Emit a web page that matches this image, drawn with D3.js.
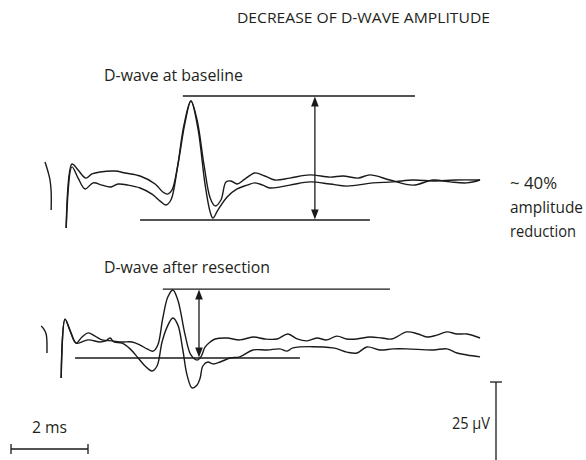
<!DOCTYPE html>
<html>
<head>
<meta charset="utf-8">
<script src="https://cdn.jsdelivr.net/npm/d3@7/dist/d3.min.js"></script>
<style>
  html, body { margin: 0; padding: 0; background: #fff; }
  svg { display: block; }
  text { font-family: "Open Sans", "Noto Sans", sans-serif; fill: #231f20; }
</style>
</head>
<body>
<div id="chart"></div>
<script>
// ---- Recorded epidural D-wave traces, [time (ms), amplitude (µV)] ----

// Stimulus artifact tail (before each sweep)
const artifactBaseline = [[0.13, 5.6], [0.21, 2.5], [0.26, 0], [0.29, -3.75], [0.29, -9.4]];
const artifactResection = [[0.03, 3.75], [0.10, 2.8], [0.16, 1.25], [0.18, -1.25], [0.18, -4.7]];

// Baseline D-wave, two superimposed sweeps
const baselineSweep1 = [
  [0.68, -15], [0.83, 5.0], [0.99, 3.1], [1.19, 0.6], [1.35, 1.9], [1.56, 2.5], [1.95, 2.8],
  [2.21, 2.2], [2.60, 1.25], [2.99, -1.25], [3.19, -3.75], [3.32, -4.4], [3.43, -3.1],
  [3.58, 4.7], [3.77, 18.1], [3.92, 24.7], [4.08, 18.75], [4.26, 4.7], [4.42, -5.6],
  [4.55, -8.1], [4.70, -6.25], [4.83, -0.6], [4.96, -0.3], [5.12, -1.25], [5.32, 0.3],
  [5.58, 2.2], [5.84, 1.25], [6.10, 0], [6.49, 0.6], [7.01, 1.6], [7.53, 0.9], [7.87, 1.25],
  [8.26, 0.6], [8.57, 1.6], [9.09, 0], [9.69, -1.6], [10.21, 0], [10.65, -0.6],
  [11.09, -0.9], [11.43, 0]
];
const baselineSweep2 = [
  [0.68, -15], [0.83, 4.1], [0.99, 0.6], [1.17, -2.8], [1.38, -0.9], [1.61, -1.6], [1.82, -2.2],
  [2.03, -1.25], [2.29, -1.6], [2.60, -2.5], [2.91, -4.4], [3.12, -6.6], [3.27, -7.8],
  [3.40, -6.25], [3.56, 3.1], [3.74, 17.2], [3.92, 24.7], [4.10, 16.25], [4.29, -1.6],
  [4.42, -10], [4.49, -11.9], [4.62, -9.4], [4.86, -5.3], [5.12, -2.8], [5.38, -1.6],
  [5.58, -0.9], [5.79, -1.6], [5.97, -2.5], [6.49, -1.6], [7.01, -0.6], [7.53, -1.25],
  [7.97, -1.9], [8.65, -0.9], [9.17, -0.6], [9.69, 0], [10.21, -0.3], [10.78, 0], [11.43, 0]
];

// D-wave after resection, two superimposed sweeps
const resectionSweep1 = [
  [0.55, -12.5], [0.65, 5.9], [0.78, 2.5], [0.94, -1.6], [1.09, 0.3], [1.25, 1.6], [1.43, 0.6],
  [1.61, -0.6], [1.87, -0.9], [2.13, -1.25], [2.39, -1.25], [2.60, -2.2], [2.78, -3.4],
  [2.94, -4.1], [3.06, -2.2], [3.19, 6.25], [3.32, 12.8], [3.45, 15.0], [3.58, 11.9],
  [3.77, 0.9], [3.92, -5.3], [4.08, -6.9], [4.18, -5.9], [4.29, -2.8], [4.42, -1.25],
  [4.55, -0.3], [4.86, 0], [5.19, -0.6], [5.53, 0.3], [5.84, -0.3], [6.16, -0.3], [6.44, 1.25],
  [6.68, -0.3], [6.94, -0.9], [7.19, 0], [7.45, -0.6], [7.71, 0.6], [7.97, -0.3], [8.23, -0.3],
  [8.57, 0.3], [8.88, 0], [9.14, -0.3], [9.53, 1.9], [9.82, 1.25], [10.05, 0.3], [10.31, 0.9],
  [10.57, 1.9], [10.83, 1.25], [11.09, 1.25], [11.43, 0]
];
const resectionSweep2 = [
  [0.55, -12.5], [0.65, 5.9], [0.78, 2.2], [0.94, -1.6], [1.25, -0.6], [1.56, -1.25], [1.71, -0.9],
  [1.82, 0], [1.92, -1.25], [2.13, -1.6], [2.34, -3.4], [2.55, -6.25], [2.73, -8.75],
  [2.91, -10.3], [3.04, -8.75], [3.17, -1.25], [3.30, 3.4], [3.45, 6.25], [3.58, 4.1],
  [3.71, -3.75], [3.82, -11.6], [3.95, -15.6], [4.08, -14.7], [4.16, -12.5], [4.23, -8.75],
  [4.36, -7.5], [4.49, -8.1], [4.68, -7.5], [4.94, -6.25], [5.19, -5.9], [5.53, -3.75],
  [5.90, -3.75], [6.23, -3.4], [6.42, -4.1], [6.57, -3.1], [7.61, -3.1], [7.97, -4.4],
  [8.23, -4.7], [8.49, -2.8], [8.83, -3.75], [9.17, -3.4], [9.53, -3.4], [10.21, -3.75],
  [10.57, -3.4], [10.83, -4.7], [11.09, -5.3], [11.43, -5.9]
];

// Peak-to-trough reference levels: [level µV, from ms, to ms]
const baselineLevels = [[26.25, 3.71, 9.74], [-12.5, 2.60, 8.57]];
const resectionLevels = [[15.3, 3.19, 9.09], [-6.25, 0.91, 6.75]];
// Time of the amplitude arrow in each panel (ms)
const baselineArrowAt = 7.14;
const resectionArrowAt = 4.13;

// Calibration
const timeCalMs = 2;
const ampCalUv = 25;

// Labels
const titleText = "DECREASE OF D-WAVE AMPLITUDE";
const baselineLabel = "D-wave at baseline";
const resectionLabel = "D-wave after resection";
const reductionLines = ["~ 40%", "amplitude", "reduction"];
const timeCalLabel = "2 ms";
const ampCalLabel = "25 \u03bcV";

// ---- Drawing ----
const W = 586, H = 460;
const ink = "#1b1a1a";

const svg = d3.select("#chart").append("svg")
  .attr("width", W).attr("height", H);

const x = d3.scaleLinear().domain([0, 14]).range([40, 579]);
const yBase = d3.scaleLinear().domain([0, 25]).range([180, 100]);
const yRes = d3.scaleLinear().domain([0, 25]).range([338, 258]);

function drawTrace(data, y) {
  const line = d3.line()
    .x(d => x(d[0])).y(d => y(d[1]))
    .curve(d3.curveCatmullRom.alpha(0.5));
  svg.append("path").datum(data)
    .attr("d", line)
    .attr("fill", "none")
    .attr("stroke", ink)
    .attr("stroke-width", 1.4)
    .attr("stroke-linejoin", "round");
}

function drawLevels(levels, y) {
  svg.selectAll(null).data(levels).enter().append("line")
    .attr("x1", d => x(d[1])).attr("x2", d => x(d[2]))
    .attr("y1", d => y(d[0])).attr("y2", d => y(d[0]))
    .attr("stroke", ink).attr("stroke-width", 1.3);
}

function drawArrow(t, levels, y) {
  const ax = x(t);
  const yTop = y(levels[0][0]) + 0.5;
  const yBot = y(levels[1][0]) - 0.5;
  const hl = 10, hw = 3.8;
  svg.append("line")
    .attr("x1", ax).attr("x2", ax)
    .attr("y1", yTop + 4).attr("y2", yBot - 4)
    .attr("stroke", ink).attr("stroke-width", 1.3);
  svg.append("path")
    .attr("d", `M${ax},${yTop} L${ax - hw},${yTop + hl} L${ax + hw},${yTop + hl} Z`)
    .attr("fill", ink);
  svg.append("path")
    .attr("d", `M${ax},${yBot} L${ax - hw},${yBot - hl} L${ax + hw},${yBot - hl} Z`)
    .attr("fill", ink);
}

// Baseline panel
drawTrace(artifactBaseline, yBase);
drawTrace(baselineSweep1, yBase);
drawTrace(baselineSweep2, yBase);
drawLevels(baselineLevels, yBase);
drawArrow(baselineArrowAt, baselineLevels, yBase);

// After-resection panel
drawTrace(artifactResection, yRes);
drawTrace(resectionSweep1, yRes);
drawTrace(resectionSweep2, yRes);
drawLevels(resectionLevels, yRes);
drawArrow(resectionArrowAt, resectionLevels, yRes);

// Text
function label(str, tx, ty, size, len) {
  const t = svg.append("text").attr("x", tx).attr("y", ty)
    .attr("font-size", size).text(str);
  if (len) t.attr("textLength", len).attr("lengthAdjust", "spacingAndGlyphs");
  return t;
}
label(titleText, 237, 23, 15, 253);
label(baselineLabel, 104, 81, 16, 139);
label(resectionLabel, 104, 273, 16, 166);
label(reductionLines[0], 510, 189, 16, 47);
label(reductionLines[1], 510, 213, 16, 73);
label(reductionLines[2], 510, 237, 16, 66);

// Time calibration bar
const tbX = 11, tbY = 449;
const tbLen = x(timeCalMs) - x(0);
svg.append("line").attr("x1", tbX).attr("x2", tbX + tbLen).attr("y1", tbY).attr("y2", tbY)
  .attr("stroke", ink).attr("stroke-width", 1.3);
[tbX, tbX + tbLen].forEach(px => {
  svg.append("line").attr("x1", px).attr("x2", px).attr("y1", tbY - 5).attr("y2", tbY + 5)
    .attr("stroke", ink).attr("stroke-width", 1.3);
});
label(timeCalLabel, tbX + tbLen / 2 - 17.5, 433, 16, 35);

// Amplitude calibration bar
const abX = 496, abY = 382;
const abLen = yBase(0) - yBase(ampCalUv);
svg.append("line").attr("x1", abX).attr("x2", abX).attr("y1", abY).attr("y2", abY + abLen)
  .attr("stroke", ink).attr("stroke-width", 1.3);
svg.append("line").attr("x1", abX - 6).attr("x2", abX + 6).attr("y1", abY).attr("y2", abY)
  .attr("stroke", ink).attr("stroke-width", 1.3);
label(ampCalLabel, 452, 429, 16, 38);
</script>
</body>
</html>
